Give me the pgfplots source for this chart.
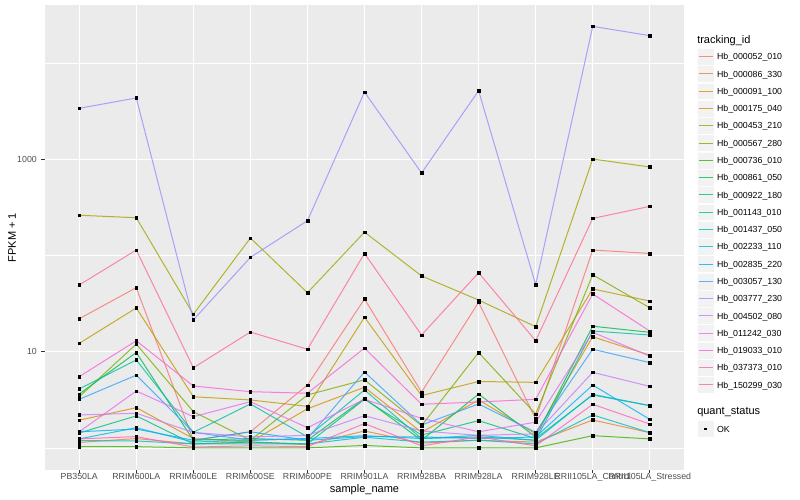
\documentclass[border=0pt]{standalone}
\usepackage{pgfplots}
\usepackage{pgfplotstable}
\pgfplotsset{compat=1.18}
\usepackage{fontspec}
\setmainfont{Liberation Sans}

% ggplot2 hue palette, 20 levels
\definecolor{c1}{HTML}{F8766D}
\definecolor{c2}{HTML}{EA8331}
\definecolor{c3}{HTML}{D89000}
\definecolor{c4}{HTML}{C09B00}
\definecolor{c5}{HTML}{A3A500}
\definecolor{c6}{HTML}{7CAE00}
\definecolor{c7}{HTML}{39B600}
\definecolor{c8}{HTML}{00BB4E}
\definecolor{c9}{HTML}{00BF7D}
\definecolor{c10}{HTML}{00C1A3}
\definecolor{c11}{HTML}{00BFC4}
\definecolor{c12}{HTML}{00BAE0}
\definecolor{c13}{HTML}{00B0F6}
\definecolor{c14}{HTML}{35A2FF}
\definecolor{c15}{HTML}{9590FF}
\definecolor{c16}{HTML}{C77CFF}
\definecolor{c17}{HTML}{E76BF3}
\definecolor{c18}{HTML}{FA62DB}
\definecolor{c19}{HTML}{FF62BC}
\definecolor{c20}{HTML}{FF6C91}
\definecolor{ggpanel}{HTML}{EBEBEB}
\definecolor{ggkey}{HTML}{F2F2F2}
\definecolor{gg30}{HTML}{4D4D4D}
\definecolor{gg20}{HTML}{333333}

% FPKM + 1 per sample (rows) and tracking_id (columns s1..s20)
\pgfplotstableread{
x s1 s2 s3 s4 s5 s6 s7 s8 s9 s10 s11 s12 s13 s14 s15 s16 s17 s18 s19 s20
0 22 1.14 1.94 12.2 262 3.4 1.03 3.63 1.43 4.1 1.19 1.24 1.47 3.2 3390 2.2 1.47 5.5 1.24 49.4
1 46.3 1.25 2.62 28.5 247 12.0 1.03 9.8 2.15 8.2 1.18 1.62 1.57 5.7 4340 2.29 3.9 13.0 1.31 114
2 1.2 1.1 1.25 3.4 24.5 2.38 1.0 1.2 1.1 1.45 1.1 1.15 1.2 1.45 21.4 1.45 2.11 4.4 1.02 6.8
3 1.47 1.15 1.15 3.15 152 1.2 1.0 1.25 1.15 2.86 1.1 1.2 1.47 1.2 95.6 1.3 3.02 3.84 1.05 16.0
4 4.5 1.08 2.55 2.7 41 3.55 1.0 1.2 1.1 1.3 1.1 1.25 1.2 1.25 230 1.35 1.62 3.7 1.03 10.6
5 35.3 1.5 4.27 22.8 175 5.1 1.06 3.27 3.2 4.0 1.29 1.34 1.31 6.15 5000 2.16 3.2 10.9 1.79 105
6 3.8 1.12 1.45 3.5 61.3 1.7 1.0 1.2 1.36 1.25 1.15 1.25 1.3 1.73 721 1.5 2.03 2.84 1.05 14.9
7 32.6 1.2 3.15 4.9 34.4 9.8 1.0 3.63 1.92 1.3 1.2 1.35 1.25 2.86 5160 1.35 1.47 3.0 1.3 66.2
8 2.0 1.15 1.4 4.8 18.2 2.25 1.0 1.3 1.25 1.2 1.1 1.2 1.3 1.45 49.8 1.4 1.85 3.2 1.05 13.0
9 114 1.95 14.3 44.9 1006 63 1.34 18.4 3.55 16.4 2.2 3.6 4.5 10.6 24100 6.1 15.9 39.8 2.84 243
10 105 1.44 9.2 33.6 832 28.6 1.24 15.9 2.75 14.9 1.44 2.75 1.98 7.7 19300 4.36 9.0 16.4 1.77 324
}\fpkm

\begin{document}
\begin{tikzpicture}
\path[use as bounding box] (0bp,0bp) rectangle (800bp,500bp);
\begin{axis}[
    at={(45bp,30bp)}, anchor=south west,
    scale only axis, width=639bp, height=465bp,
    ymode=log,
    xmin=-0.6, xmax=10.6,
    ymin=0.589, ymax=40180,
    xtick={0,...,10},
    xticklabels={PB350LA,RRIM600LA,RRIM600LE,RRIM600SE,RRIM600PE,RRIM901LA,RRIM928BA,RRIM928LA,RRIM928LE,RRII105LA\_Control,RRII105LA\_Stressed},
    ytick={10,1000}, yticklabels={10,1000},
    minor ytick={1,100,10000},
    minor tick length=0pt,
    major tick length=3.5bp,
    tick align=outside, tick pos=left,
    tick style={gg20, line width=0.7bp},
    axis line style={draw=none},
    axis background/.style={fill=ggpanel},
    grid=both,
    major grid style={white, line width=1.07bp},
    minor grid style={white, line width=0.53bp},
    ticklabel style={font=\fontsize{8.8bp}{10bp}\selectfont, text=gg30},
    xticklabel style={anchor=base, inner sep=0pt, yshift=-6.5bp},
    yticklabel style={anchor=east, inner sep=0pt, xshift=-4.5bp},
    label style={font=\fontsize{11bp}{13bp}\selectfont},
    xlabel={sample\_name},
    xlabel style={at={(axis description cs:0.5,0)}, anchor=base, yshift=-22.5bp},
    ylabel={FPKM + 1},
    ylabel style={at={(axis description cs:-0.0516,0.5)}, anchor=center},
    legend style={at={(axis description cs:1.0203,0.9402)}, anchor=north west,
        draw=none, fill=none, inner sep=0pt, outer sep=0pt,
        row sep=0pt, column sep=2.75bp,
        font=\fontsize{8.8bp}{10bp}\selectfont,
        nodes={inner sep=0pt, outer sep=0pt, text height=6.4bp, text depth=0pt},
        cells={anchor=west}},
    legend image code/.code={
        \fill[ggkey, draw=white, line width=0.4bp] (0.2bp,-8.44bp) rectangle (17.08bp,8.44bp);
        \draw[line width=1bp] (1.73bp,0bp) -- (15.55bp,0bp);},
]
\addlegendimage{legend image code/.code={\path[draw=none, fill=none] (0bp,-7.9bp) rectangle (0bp,7.3bp);}}
\pgfplotsinvokeforeach{1,...,20}{
    \addplot[draw=c#1, line width=1bp, draw opacity=0.8, no marks] table[x=x, y=s#1] {\fpkm};
}
\addlegendimage{legend image code/.code={\path[draw=none, fill=none] (0bp,-8.6bp) rectangle (0bp,18.1bp);}}
\addlegendimage{legend image code/.code={
    \fill[ggkey, draw=white, line width=0.4bp] (0.2bp,-8.44bp) rectangle (17.08bp,8.44bp);
    \fill[black, draw=none] (7.3bp,-1.35bp) rectangle (10bp,1.35bp);}}
\pgfplotsinvokeforeach{1,...,20}{
    \addplot[only marks, mark=square*, mark size=1.3bp, black, forget plot] table[x=x, y=s#1] {\fpkm};
}
\legend{{\hspace*{-19.75bp}\fontsize{11bp}{13bp}\selectfont tracking\_id},
    Hb\_000052\_010,Hb\_000086\_330,Hb\_000091\_100,Hb\_000175\_040,Hb\_000453\_210,
    Hb\_000567\_280,Hb\_000736\_010,Hb\_000861\_050,Hb\_000922\_180,Hb\_001143\_010,
    Hb\_001437\_050,Hb\_002233\_110,Hb\_002835\_220,Hb\_003057\_130,Hb\_003777\_230,
    Hb\_004502\_080,Hb\_011242\_030,Hb\_019033\_010,Hb\_037373\_010,Hb\_150299\_030,
    {\hspace*{-19.75bp}\fontsize{11bp}{13bp}\selectfont quant\_status},
    OK}
\end{axis}
\end{tikzpicture}
\end{document}
